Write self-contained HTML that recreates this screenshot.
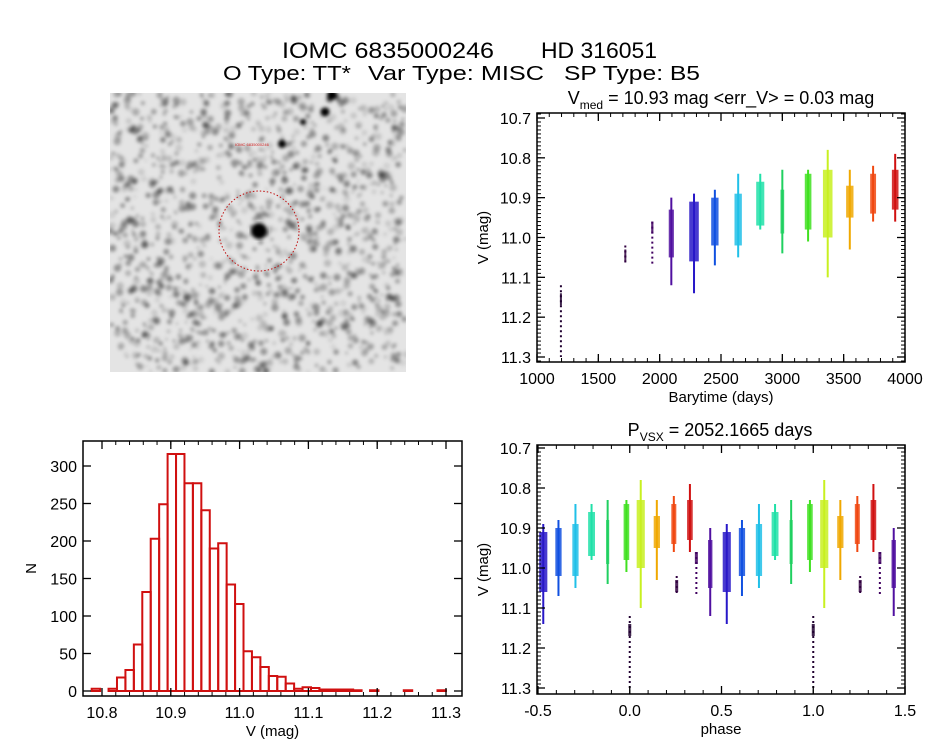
<!DOCTYPE html>
<html><head><meta charset="utf-8">
<style>
html,body{margin:0;padding:0;background:#fff;}
svg{display:block;font-family:"Liberation Sans",sans-serif;}
</style></head>
<body>
<svg id="fig" width="944" height="747" viewBox="0 0 944 747" xmlns="http://www.w3.org/2000/svg">
  <g>
    <text x="282" y="58" font-size="22" textLength="212" lengthAdjust="spacingAndGlyphs">IOMC 6835000246</text>
    <text x="541" y="58" font-size="22" textLength="116" lengthAdjust="spacingAndGlyphs">HD 316051</text>
  </g>
  <g>
    <text x="223" y="80" font-size="20" textLength="128" lengthAdjust="spacingAndGlyphs">O Type: TT*</text>
    <text x="368" y="80" font-size="20" textLength="176" lengthAdjust="spacingAndGlyphs">Var Type: MISC</text>
    <text x="564" y="80" font-size="20" textLength="136" lengthAdjust="spacingAndGlyphs">SP Type: B5</text>
  </g>

  <g id="img">
    <defs><filter id="bl"><feGaussianBlur stdDeviation="1.8"/></filter>
      <clipPath id="imgclip"><rect x="110" y="93" width="296" height="279"/></clipPath></defs>
    <rect x="110" y="93" width="296" height="279" fill="#e4e4e4"/>
    <g id="blobs" clip-path="url(#imgclip)" filter="url(#bl)"></g>
    <circle cx="259" cy="231" r="8" fill="#000" filter="url(#bl)"/>
    <circle cx="259" cy="231" r="40" fill="none" stroke="#c01010" stroke-width="1" stroke-dasharray="1.5,2"/>
    <text x="235" y="146" font-size="4" fill="#d02020">IOMC 6835000246</text>
  </g>

  <g id="lc"></g>
  <g id="ph"></g>
  <g id="hist"></g>
</svg>
<script>
// ---- data ----
const seasonTimes  = [1195, 1720, 1940, 2095, 2280, 2450, 2640, 2820, 3000, 3210, 3370, 3550, 3740, 3920];
const seasonLo     = [11.12, 11.02, 10.96, 10.90, 10.89, 10.88, 10.84, 10.84, 10.83, 10.83, 10.78, 10.83, 10.82, 10.79];
const seasonHi     = [11.30, 11.065, 11.07, 11.12, 11.14, 11.07, 11.05, 10.98, 11.04, 11.01, 11.10, 11.03, 10.96, 10.96];
const denseLo      = [11.14, 11.03, 10.96, 10.93, 10.91, 10.90, 10.89, 10.86, 10.88, 10.84, 10.83, 10.87, 10.84, 10.83];
const denseHi      = [11.17, 11.06, 10.99, 11.05, 11.06, 11.02, 11.02, 10.97, 10.99, 10.98, 11.00, 10.95, 10.94, 10.93];
const seasonWidth  = [4, 4, 6, 14, 26, 20, 20, 22, 10, 18, 26, 20, 16, 18];
const seasonColors = ['#200030','#300040','#400060','#5010a0','#2818c8','#1050e0','#20c0e8','#20e0a8','#20d060','#40e020','#c8f020','#f0a800','#f04810','#d01010'];
const period = 2052.1665;
const epoch = 1195;
const histStart = 10.785, histWidth = 0.01226;
const histCounts = [3,0,3,18,28,62,132,203,249,316,316,277,277,241,190,197,142,116,53,45,32,20,19,10,3,5,4,2,2,2,2,1,0,1,0,0,0,1,0,0,0,1];
const lcXTicks = [1000,1500,2000,2500,3000,3500,4000];
const magTicks = [10.7,10.8,10.9,11.0,11.1,11.2,11.3];
const phTicks = [-0.5,0.0,0.5,1.0,1.5];
const histXTicks = [10.8,10.9,11.0,11.1,11.2,11.3];
const histYTicks = [0,50,100,150,200,250,300];

const NS='http://www.w3.org/2000/svg';
function mk(parent,tag,attrs,text){const e=document.createElementNS(NS,tag);for(const k in attrs)e.setAttribute(k,attrs[k]);if(text!==undefined)e.textContent=text;parent.appendChild(e);return e;}

// sky blobs (decorative texture)
(function(){const g=document.getElementById('blobs');let s=12345;const r=()=>{s=(s*1103515245+12345)%2147483648;return s/2147483648;};
 for(let i=0;i<1400;i++){const c=mk(g,'circle',{cx:110+r()*296,cy:93+r()*279,r:1.2+r()*2.6,fill:'#000','fill-opacity':(0.08+r()*0.35).toFixed(2)});
 
 }
 [[332,95,5],[325,112,4.5],[282,144,4],[303,122,3]].forEach(b=>{const c=mk(g,'circle',{cx:b[0],cy:b[1],r:b[2],fill:'#000'});
 
 });})();

function frame(g,x0,y0,x1,y1){const r=mk(g,'rect',{x:x0,y:y0,width:x1-x0,height:y1-y0,fill:'none',stroke:'#000','stroke-width':1.5});
 
 }

function axes(g,o){
 const {x0,y0,x1,y1,sx,sy,xt,yt,xminor,yminor,xfmt,yfmt,xlab,ylab,ylabX}=o;
 frame(g,x0,y0,x1,y1);
 xt.forEach(v=>{const x=sx(v);mk(g,'line',{x1:x,x2:x,y1:y1,y2:y1-8,stroke:'#000','stroke-width':1.3});mk(g,'line',{x1:x,x2:x,y1:y0,y2:y0+8,stroke:'#000','stroke-width':1.3});
  const t=mk(g,'text',{x:x,y:y1+22,'font-size':16,'text-anchor':'middle'},xfmt(v));
  
  });
 xminor.forEach(v=>{const x=sx(v);mk(g,'line',{x1:x,x2:x,y1:y1,y2:y1-4,stroke:'#000'});mk(g,'line',{x1:x,x2:x,y1:y0,y2:y0+4,stroke:'#000'});});
 yt.forEach(v=>{const y=sy(v);mk(g,'line',{x1:x0,x2:x0+8,y1:y,y2:y,stroke:'#000','stroke-width':1.3});mk(g,'line',{x1:x1,x2:x1-8,y1:y,y2:y,stroke:'#000','stroke-width':1.3});
  const t=mk(g,'text',{x:x0-6,y:y+6,'font-size':16,'text-anchor':'end'},yfmt(v));
  
  });
 yminor.forEach(v=>{const y=sy(v);mk(g,'line',{x1:x0,x2:x0+4,y1:y,y2:y,stroke:'#000'});mk(g,'line',{x1:x1,x2:x1-4,y1:y,y2:y,stroke:'#000'});});
 const xl=mk(g,'text',{x:(x0+x1)/2,y:y1+40,'font-size':15,'text-anchor':'middle'},xlab);
 
 
 const yc=(y0+y1)/2;const yl=mk(g,'text',{x:ylabX,y:yc,'font-size':15,'text-anchor':'middle',transform:`rotate(-90 ${ylabX} ${yc})`},ylab);
 
 
}
const range=(a,b,s)=>{const r=[];for(let v=a;v<=b+1e-9;v+=s)r.push(+v.toFixed(4));return r;};

// ---- light curve ----
(function(){const g=document.getElementById('lc');
 const x0=537,x1=905,y0=113,y1=362;
 const sx=v=>537+(v-1000)*(368/3000);
 const sy=v=>118+(v-10.7)*(239/0.6);
 seasonTimes.forEach((t,i)=>{const x=sx(t);
  const l=mk(g,'line',{x1:x,x2:x,y1:sy(seasonLo[i]),y2:sy(seasonHi[i]),stroke:seasonColors[i],'stroke-width':2,'stroke-dasharray':i<3?'2,3':'none'});
  
  
  const w=Math.max(2,seasonWidth[i]*368/3000*3);
  const r=mk(g,'rect',{x:x-w/2,y:sy(denseLo[i]),width:w,height:sy(denseHi[i])-sy(denseLo[i]),fill:seasonColors[i],'fill-opacity':0.85});
  
  });
 axes(g,{x0,y0,x1,y1,sx,sy,xt:lcXTicks,yt:magTicks,xminor:range(1000,4000,100),yminor:range(10.69,11.31,0.01),
  xfmt:v=>String(v),yfmt:v=>v.toFixed(1),xlab:'Barytime (days)',ylab:'V (mag)',ylabX:488});
 const t=mk(g,'text',{x:721,y:104,'font-size':18,'text-anchor':'middle'});
 
 
 t.innerHTML='V<tspan font-size="12" dy="5">med</tspan><tspan dy="-5"> = 10.93 mag &lt;err_V&gt; = 0.03 mag</tspan>';
})();

// ---- phase plot ----
(function(){const g=document.getElementById('ph');
 const x0=537,x1=905,y0=445,y1=694;
 const sx=v=>538+(v+0.5)*(367/2);
 const sy=v=>448+(v-10.7)*(240/0.6);
 seasonTimes.forEach((t,i)=>{let p=((t-epoch)/period)%1; if(p>=0.5)p-=1;
  [p,p+1].forEach(ph=>{ if(ph<-0.5||ph>1.5)return; const x=sx(ph);
   const l=mk(g,'line',{x1:x,x2:x,y1:sy(seasonLo[i]),y2:sy(seasonHi[i]),stroke:seasonColors[i],'stroke-width':2,'stroke-dasharray':i<3?'2,3':'none'});
   
   
   const w=Math.max(3,seasonWidth[i]*367/2/period*3.5);
   const r=mk(g,'rect',{x:Math.max(x0,x-w/2),y:sy(denseLo[i]),width:w,height:sy(denseHi[i])-sy(denseLo[i]),fill:seasonColors[i],'fill-opacity':0.85});
   
   });});
 axes(g,{x0,y0,x1,y1,sx,sy,xt:phTicks,yt:magTicks,xminor:range(-0.5,1.5,0.1),yminor:range(10.7,11.3,0.01),
  xfmt:v=>v.toFixed(1),yfmt:v=>v.toFixed(1),xlab:'phase',ylab:'V (mag)',ylabX:488});
 const t=mk(g,'text',{x:720,y:436,'font-size':18,'text-anchor':'middle'});
 
 
 t.innerHTML='P<tspan font-size="12" dy="5">VSX</tspan><tspan dy="-5"> = 2052.1665 days</tspan>';
})();

// ---- histogram ----
(function(){const g=document.getElementById('hist');
 const x0=83,x1=462,y0=441,y1=696;
 const sx=v=>102+(v-10.8)*688;
 const sy=v=>691-v*0.75;
 histCounts.forEach((c,i)=>{const a=sx(histStart+i*histWidth),b=sx(histStart+(i+1)*histWidth);
  const r=mk(g,'rect',{x:a,y:sy(c),width:b-a,height:sy(0)-sy(c),fill:'none',stroke:'#d01010','stroke-width':2});
  
  });
 axes(g,{x0,y0,x1,y1,sx,sy,xt:histXTicks,yt:histYTicks,xminor:range(10.8,11.3,0.02),yminor:[],
  xfmt:v=>v.toFixed(1),yfmt:v=>String(v),xlab:'V (mag)',ylab:'N',ylabX:36});
})();
</script>
</body></html>
